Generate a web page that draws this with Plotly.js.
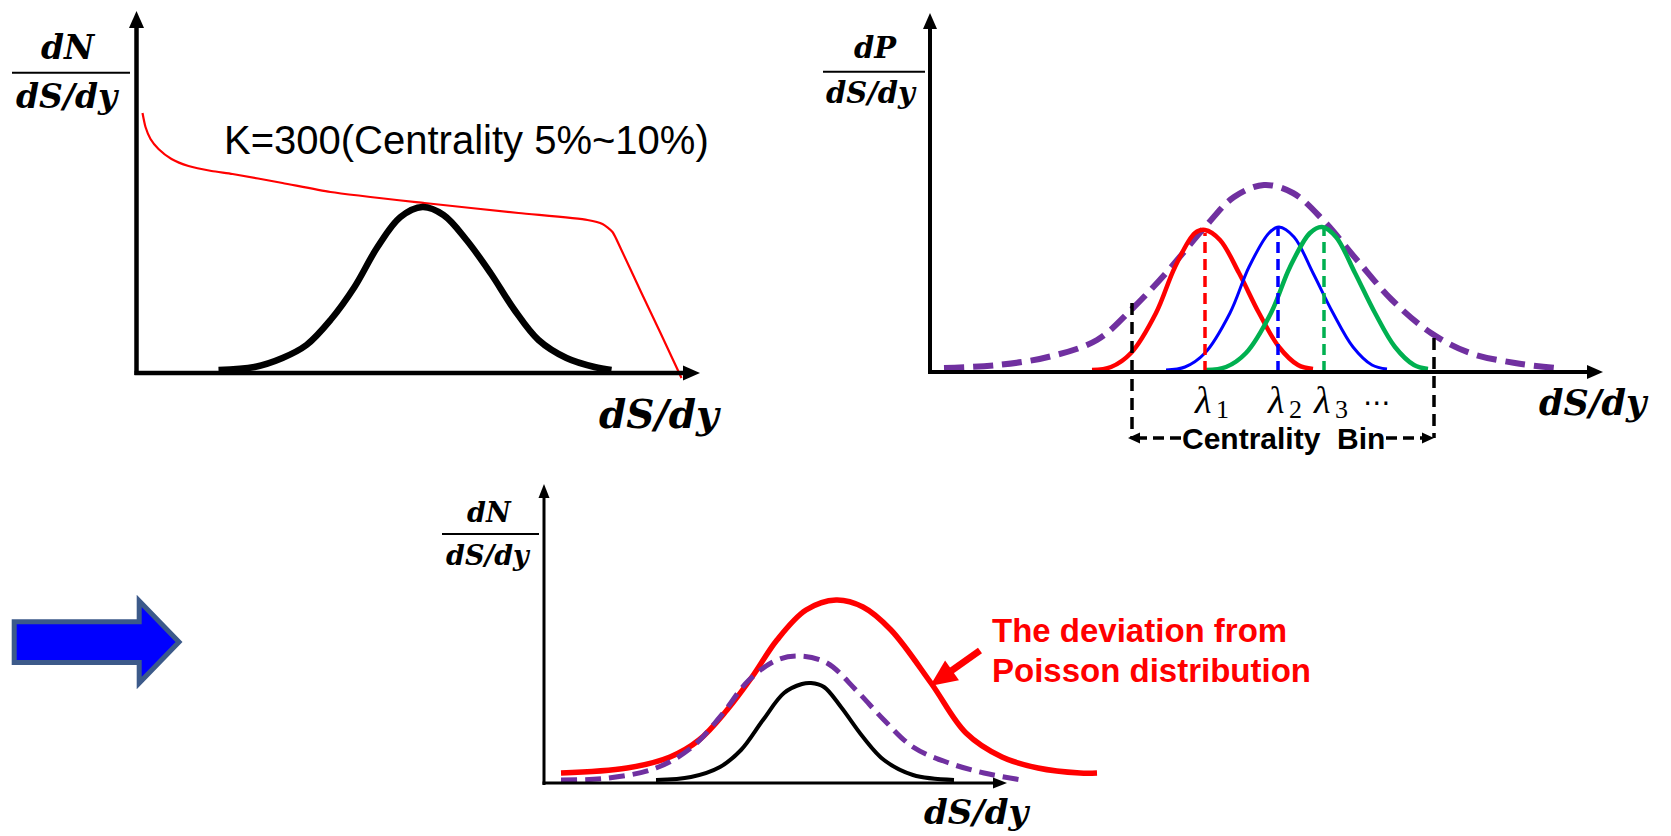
<!DOCTYPE html>
<html><head><meta charset="utf-8">
<script src="https://cdn.plot.ly/plotly-3.0.1.min.js"></script>
<style>html,body{margin:0;padding:0;background:#fff;overflow:hidden}#chart{width:1671px;height:836px}</style>
</head><body><div id="chart"></div>
<script>
// ---------- Panel 1 : dN/(dS/dy) vs dS/dy ----------
const p1RedX   = [6, 9, 14, 22, 35, 52, 75, 96, 146, 194, 288, 382, 451, 466, 476, 484, 505, 524, 545];
const p1RedY   = [260, 246, 234, 224, 214, 207, 202, 199, 190, 181, 170, 160, 153, 149, 141, 125, 80, 40, -5];
const p1BlackX = [82, 118, 146, 170, 194, 218, 241, 264, 286, 307, 330, 354, 378, 402, 430, 458, 475];
const p1BlackY = [3, 6, 15, 28, 53, 86, 126, 156, 166, 158, 133, 100, 63, 33, 15, 6, 3];

// ---------- Panel 2 : dP/(dS/dy) vs dS/dy ----------
const p2PurpleX = [14, 68, 118, 167, 201, 236, 275, 304, 334, 363, 393, 427, 462, 501, 540, 585, 626];
const p2PurpleY = [4, 7, 15, 32, 62, 99, 145, 175, 187, 179, 152, 112, 72, 39, 19, 9, 4];
const p2RedX   = [162, 181, 201, 226, 245, 265, 275, 290, 309, 329, 349, 368, 383];
const p2RedY   = [2, 5, 19, 59, 105, 139, 142, 132, 99, 59, 25, 7, 3];
const p2BlueX  = [236, 255, 275, 300, 319, 339, 349, 364, 383, 403, 423, 442, 457];
const p2BlueY  = [2, 5, 19, 59, 105, 139, 145, 135, 99, 59, 25, 7, 3];
const p2GreenX = [276, 296, 316, 341, 360, 380, 392, 406, 425, 445, 465, 484, 498];
const p2GreenY = [2, 5, 19, 59, 105, 139, 145, 135, 99, 59, 25, 7, 3];
const lambdaX   = [275, 348, 394];
const lambdaTop = [139, 144, 143];
const lambdaSubs = ['1', '2', '3'];
const lambdaColors = ['#ff0000', '#0000ff', '#00b050'];
const binX = [202, 504];
const binTop = [69, 34];
const binBottom = -66;

// ---------- Panel 3 : result ----------
const p3RedX    = [17, 83, 126, 155, 183, 208, 233, 262, 292, 319, 347, 387, 422, 458, 494, 536, 553];
const p3RedY    = [10, 15, 26, 43, 73, 106, 143, 173, 183, 176, 153, 100, 50, 26, 15, 10, 10];
const p3PurpleX = [17, 65, 112, 147, 176, 205, 233, 256, 283, 312, 340, 369, 405, 440, 478];
const p3PurpleY = [3, 5, 15, 35, 66, 103, 123, 127, 120, 93, 63, 36, 20, 10, 3];
const p3BlackX  = [112, 147, 176, 197, 219, 240, 258, 267, 280, 297, 319, 340, 369, 410];
const p3BlackY  = [3, 6, 16, 33, 63, 90, 99, 100, 96, 76, 46, 23, 8, 3];

// ---------- layout helpers ----------
const W = 1671, H = 836;
const px = x => x / W;
const py = y => 1 - y / H;
const P1 = {ox: 136.5, oy: 373, l: 10, r: 570, b: 15, t: 365};
const P2 = {ox: 930, oy: 372, l: 10, r: 690, b: 80, t: 362};
const P3 = {ox: 544, oy: 783, l: 10, r: 565, b: 15, t: 300};
function xax(P, anchor) { return {domain: [px(P.ox - P.l), px(P.ox + P.r)], range: [-P.l, P.r], visible: false, fixedrange: true, anchor: anchor}; }
function yax(P, anchor) { return {domain: [py(P.oy + P.b), py(P.oy - P.t)], range: [-P.b, P.t], visible: false, fixedrange: true, anchor: anchor}; }

const traces = [];
function line(x, y, xa, ya, color, width, dash, smooth) {
  traces.push({x: x, y: y, xaxis: xa, yaxis: ya, type: 'scatter', mode: 'lines', hoverinfo: 'skip',
    line: {color: color, width: width, dash: dash || 'solid', shape: smooth ? 'spline' : 'linear', smoothing: smooth || 0}});
}
// panel 1
line(p1RedX, p1RedY, 'x', 'y', '#ff0000', 2.2, null, 0.6);
line(p1BlackX, p1BlackY, 'x', 'y', '#000000', 6.5, null, 1);
// panel 2
line(p2PurpleX, p2PurpleY, 'x2', 'y2', '#7030a0', 6, '20px,9px', 1);
line(p2RedX, p2RedY, 'x2', 'y2', '#ff0000', 4.5, null, 1);
line(p2BlueX, p2BlueY, 'x2', 'y2', '#0000ff', 3, null, 1);
line(p2GreenX, p2GreenY, 'x2', 'y2', '#00b050', 4.5, null, 1);
lambdaX.forEach((lx, i) => line([lx, lx], [0, lambdaTop[i]], 'x2', 'y2', lambdaColors[i], 3.5, '11px,6px'));
binX.forEach((bx, i) => line([bx, bx], [binTop[i], binBottom], 'x2', 'y2', '#000000', 3.5, '12px,7px'));
// panel 3
line(p3RedX, p3RedY, 'x3', 'y3', '#ff0000', 5.5, null, 1);
line(p3PurpleX, p3PurpleY, 'x3', 'y3', '#7030a0', 5, '16px,8px', 1);
line(p3BlackX, p3BlackY, 'x3', 'y3', '#000000', 4, null, 1);

// ---------- shapes ----------
const shapes = [];
function seg(x0, y0, x1, y1, w, color, dash) {
  shapes.push({type: 'line', xref: 'paper', yref: 'paper', x0: px(x0), y0: py(y0), x1: px(x1), y1: py(y1),
    line: {color: color || '#000', width: w, dash: dash || 'solid'}});
}
function poly(pts, fill, lineColor, lw) {
  shapes.push({type: 'path', xref: 'paper', yref: 'paper',
    path: 'M' + pts.map(p => px(p[0]) + ',' + py(p[1])).join(' L') + ' Z',
    fillcolor: fill, line: {color: lineColor || fill, width: lw || 0}});
}
function tri(tx, ty, dx, dy, len, wid, color) {
  const n = Math.hypot(dx, dy); dx /= n; dy /= n;
  const bx = tx - dx * len, by = ty - dy * len;
  const qx = -dy * wid / 2, qy = dx * wid / 2;
  poly([[tx, ty], [bx + qx, by + qy], [bx - qx, by - qy]], color || '#000');
}
// axes lines + heads
seg(136.5, 375, 136.5, 26, 4.5); seg(134.5, 373, 686, 373, 4.5);
tri(136.5, 11, 0, -1, 17, 15); tri(700, 373, 1, 0, 17, 15);
seg(930, 374, 930, 27, 4);       seg(928, 372, 1589, 372, 4);
tri(930, 13, 0, -1, 16, 14);   tri(1603, 372, 1, 0, 16, 14);
seg(544, 785, 544, 497, 3);      seg(542.5, 783, 994, 783, 3);
tri(544, 484, 0, -1, 14, 11);  tri(1007, 783, 1, 0, 14, 11);
// fraction bars
seg(12, 72.7, 130, 72.7, 2); seg(823, 71.7, 925, 71.7, 2); seg(442, 534, 539, 534, 2);
// centrality bin dashed arrows
seg(1136, 438, 1181, 438, 3.5, '#000', '11px,6px');
seg(1386, 438, 1424, 438, 3.5, '#000', '11px,6px');
tri(1128, 438, -1, 0, 12, 11); tri(1434, 438, 1, 0, 12, 11);
// red pointer arrow (panel 3)
seg(980, 650.5, 951, 671, 7, '#ff0000');
tri(930, 686, -48, 34, 27, 24, '#ff0000');
// big blue arrow
poly([[14.2, 621.8], [139.2, 621.8], [139.2, 601], [179, 642], [139.2, 683], [139.2, 662.5], [14.2, 662.5]],
  '#0000ff', '#3c5a8a', 5);

// ---------- annotations ----------
const ann = [];
const mathFont = (size, bold) => ({family: 'DejaVu Serif', size: size, color: '#000', style: 'italic', weight: bold ? 'bold' : 'normal'});
function label(text, x, y, font, xanchor) {
  ann.push({xref: 'paper', yref: 'paper', x: px(x), y: py(y), text: text, showarrow: false,
    xanchor: xanchor || 'center', yanchor: 'middle', font: font});
}
label('dN', 68, 47, mathFont(33, true));
label('dS/dy', 68, 97, mathFont(33, true));
label('dS/dy', 660, 414, mathFont(39, true));
label('K=300(Centrality 5%~10%)', 466, 140, {family: 'Liberation Sans', size: 40, color: '#000'});
label('dP', 875, 48, mathFont(29, true));
label('dS/dy', 871, 92.5, mathFont(29, true));
label('dS/dy', 1594, 402, mathFont(35, true));
lambdaX.forEach((lx, i) => {
  ann.push({xref: 'x2', yref: 'paper', x: lx - 3, y: py(400), showarrow: false, text: 'λ',
    xanchor: 'center', yanchor: 'middle', font: {family: 'Liberation Serif', size: 38, color: '#000', style: 'italic'}});
  ann.push({xref: 'x2', yref: 'paper', x: lx + 9, y: py(410), showarrow: false, text: lambdaSubs[i],
    xanchor: 'left', yanchor: 'middle', font: {family: 'Liberation Serif', size: 26, color: '#000'}});
});
label('⋯', 1377, 402, {family: 'DejaVu Sans', size: 28, color: '#000'});
label('Centrality&nbsp;&nbsp;Bin', 1283.5, 438, {family: 'Liberation Sans', size: 30, color: '#000', weight: 'bold'});
label('dN', 490, 512, mathFont(27, true));
label('dS/dy', 488, 555, mathFont(27, true));
label('dS/dy', 977, 812, mathFont(34, true));
label('The deviation from', 990, 630, {family: 'Liberation Sans', size: 33, color: '#ff0000', weight: 'bold'}, 'left');
label('Poisson distribution', 990, 670, {family: 'Liberation Sans', size: 33, color: '#ff0000', weight: 'bold'}, 'left');

const layout = {
  width: W, height: H, margin: {l: 0, r: 0, t: 0, b: 0}, showlegend: false,
  paper_bgcolor: '#ffffff', plot_bgcolor: 'rgba(0,0,0,0)',
  xaxis: xax(P1, 'y'), yaxis: yax(P1, 'x'),
  xaxis2: xax(P2, 'y2'), yaxis2: yax(P2, 'x2'),
  xaxis3: xax(P3, 'y3'), yaxis3: yax(P3, 'x3'),
  shapes: shapes, annotations: ann
};
Plotly.newPlot('chart', traces, layout, {displayModeBar: false, staticPlot: true});
</script></body></html>
